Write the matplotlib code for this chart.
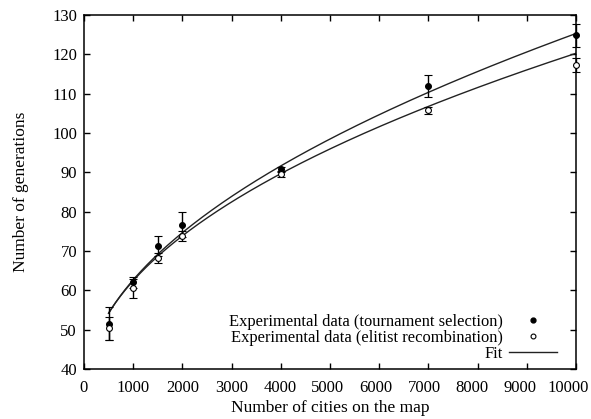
import numpy as np
import matplotlib
matplotlib.use("Agg")
import matplotlib.pyplot as plt
import matplotlib.transforms as mtransforms
from matplotlib.lines import Line2D

# ---- data ----
cities = [500, 1000, 1500, 2000, 4000, 7000, 10000]
tour_mean = [51.5, 62.0, 71.3, 76.7, 90.8, 111.9, 124.8]
tour_err = [4.2, 1.5, 2.6, 3.1, 0.6, 2.8, 3.0]
elit_mean = [50.3, 60.5, 68.2, 73.8, 89.5, 105.8, 117.3]
elit_err = [2.8, 2.4, 1.3, 1.2, 0.8, 0.9, 1.8]

# fit parameters (y = a + b * x**c)
fit_tour = (33.7, 0.916, 0.50)
fit_elit = (32.8, 1.153, 0.47)
fit_range = (500, 10000)

xticks = [0, 1000, 2000, 3000, 4000, 5000, 6000, 7000, 8000, 9000, 10000]
xticklabels = [str(v) for v in xticks]
yticks = [40, 50, 60, 70, 80, 90, 100, 110, 120, 130]

plt.rcParams['font.family'] = ['Liberation Serif', 'DejaVu Serif']
fs = 12.5

fig = plt.figure(figsize=(5.91, 4.19), dpi=100)
ax = fig.add_axes([84/591, 1-369/419, 492/591, 354/419])

xf = np.linspace(fit_range[0], fit_range[1], 400)
for (a, b, c) in (fit_tour, fit_elit):
    ax.plot(xf, a + b * xf**c, color='#222222', lw=1.0, zorder=2)

for means, errs, face in ((tour_mean, tour_err, 'black'), (elit_mean, elit_err, 'white')):
    cont = ax.errorbar(cities, means, yerr=errs, fmt='o', ms=4.2, mfc=face,
                       mec='black', mew=0.8, ecolor='black', elinewidth=1.0,
                       capsize=2.6, capthick=1.0, zorder=3)
    for artist in cont.get_children():
        artist.set_clip_on(False)

ax.set_xlim(0, 10000)
ax.set_ylim(40, 130)
ax.set_xticks(xticks)
ax.set_yticks(yticks)
ax.tick_params(direction='in', length=4.5, width=1.0, top=True, right=True,
               labelsize=12)
ax.tick_params(axis='x', labelbottom=False)
ax.tick_params(axis='y', pad=5)
for s in ax.spines.values():
    s.set_linewidth(1.1)

# x tick labels: the right-most ones sit slightly left of their ticks in the reference
base = mtransforms.blended_transform_factory(ax.transData, ax.transAxes)
for val, txt in zip(xticks, xticklabels):
    shift = -max(0.0, (val - 3000) / 7000.0) * 7.5 / 100.0  # inches
    tr = base + mtransforms.ScaledTranslation(shift, -11 / 100.0, fig.dpi_scale_trans)
    ax.text(val, 0, txt, transform=tr, ha='center', va='top', fontsize=12,
            clip_on=False)

ax.set_xlabel('Number of cities on the map', fontsize=fs, labelpad=22)
ax.set_ylabel('Number of generations', fontsize=fs, labelpad=17)

handles = [
    Line2D([], [], ls='none', marker='o', ms=3.5, mfc='black', mec='black'),
    Line2D([], [], ls='none', marker='o', ms=3.5, mfc='white', mec='black', mew=0.8),
    Line2D([], [], color='#222222', lw=1.0),
]
labels = ['Experimental data (tournament selection)',
          'Experimental data (elitist recombination)',
          'Fit']
ax.legend(handles, labels, loc='lower right', bbox_to_anchor=(0.962, 0.02),
          frameon=False, markerfirst=False, fontsize=fs*0.95, labelspacing=0.0,
          handlelength=2.9, handletextpad=0.4, borderpad=0, borderaxespad=0)

fig.savefig('out.png', dpi=100)
